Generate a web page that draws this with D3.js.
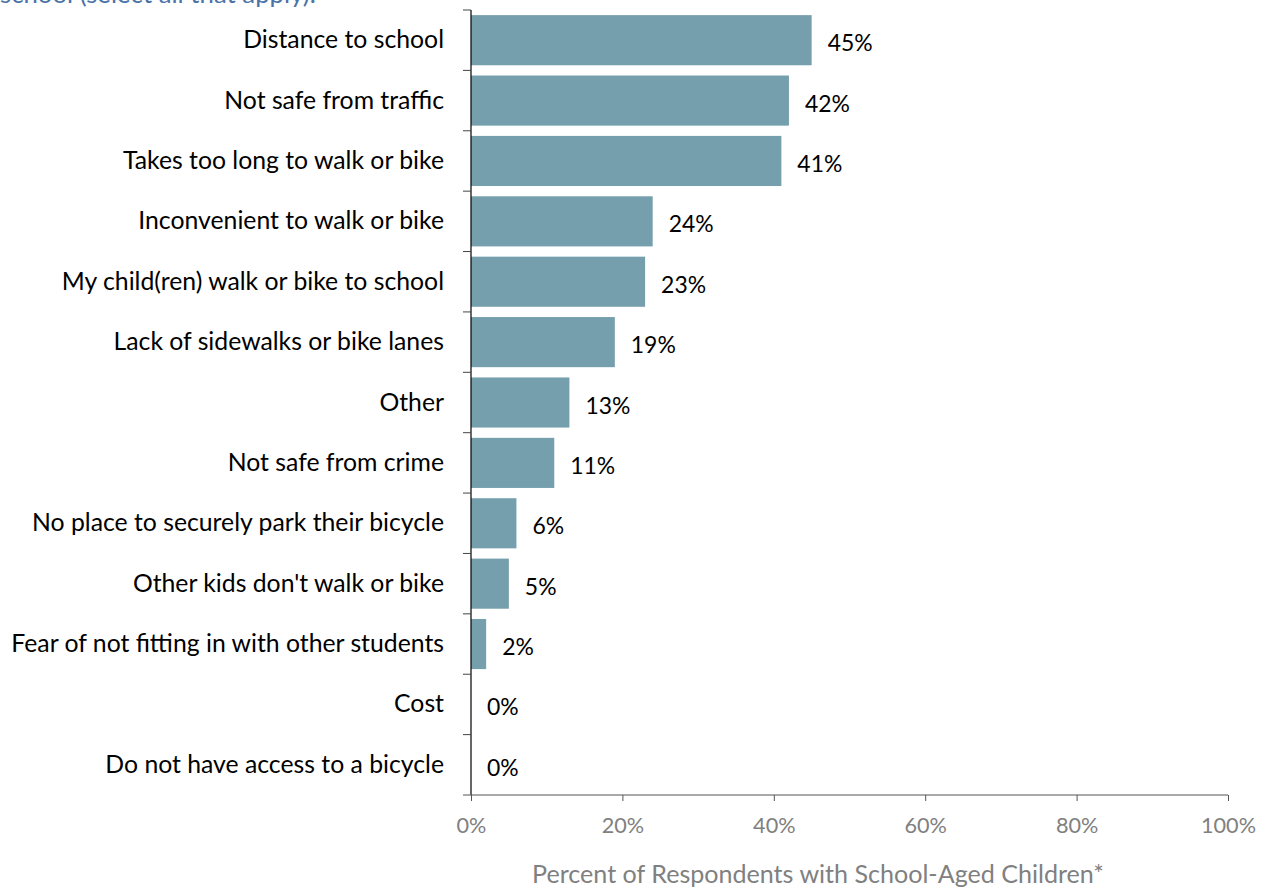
<!DOCTYPE html>
<html><head><meta charset="utf-8">
<script src="https://cdn.jsdelivr.net/npm/d3@7"></script>
<style>body{margin:0;background:#fff}svg{display:block}</style>
</head><body>
<svg id="c" width="1267" height="888"></svg>
<script>
const categories = ["Distance to school","Not safe from traffic","Takes too long to walk or bike","Inconvenient to walk or bike","My child(ren) walk or bike to school","Lack of sidewalks or bike lanes","Other","Not safe from crime","No place to securely park their bicycle","Other kids don't walk or bike","Fear of not fitting in with other students","Cost","Do not have access to a bicycle"];
const values = [45,42,41,24,23,19,13,11,6,5,2,0,0];
const xTicks = [0,20,40,60,80,100];
const titleText = "school (select all that apply).";
const axisTitle = "Percent of Respondents with School-Aged Children*";

(function(){
const svg = d3.select("#c");
const font = "Lato, 'Open Sans', sans-serif";
const L = 471, R = 1228, T = 10, B = 795;
const x = d3.scaleLinear().domain([0,100]).range([L,R]);
const y = d3.scaleBand().domain(categories).range([T,B]).paddingInner(0.17).paddingOuter(0.085);

function fit(sel, target){ // scale font so that width matches target
  const n = sel.node(); const fs = +sel.attr("font-size");
  const w = n.getComputedTextLength();
  if (w>0) sel.attr("font-size", fs*target/w);
  return +sel.attr("font-size");
}

const tt = svg.append("text").attr("x",0).attr("y",3).attr("font-family",font).attr("font-size",20)
  .attr("fill","#4a72a8").text(titleText);
fit(tt, 316);

svg.selectAll("rect.bar").data(values).enter().append("rect")
  .attr("x",x(0)).attr("y",(d,i)=>y(categories[i]))
  .attr("width",d=>x(d)-x(0)).attr("height",y.bandwidth())
  .attr("fill","#759fad");

// measure value label size from "45%"
const probe = svg.append("text").attr("font-family",font).attr("font-size",20).text("45%");
const vfs = fit(probe, 45); probe.remove();
svg.selectAll("text.val").data(values).enter().append("text")
  .attr("x",d=>x(d)+16).attr("y",(d,i)=>y(categories[i])+y.bandwidth()/2+11)
  .attr("font-family",font).attr("font-size",vfs).attr("fill","#000").text(d=>d+"%");

const step = (B-T)/categories.length;
const yb = d3.scaleLinear().domain([0,categories.length]).range([T,B]);
svg.append("line").attr("x1",L).attr("x2",L).attr("y1",T).attr("y2",B).attr("stroke","#000").attr("stroke-width",1.2);
svg.selectAll("line.yt").data(d3.range(categories.length)).enter().append("line")
  .attr("x1",L-8).attr("x2",L).attr("y1",d=>yb(d)).attr("y2",d=>yb(d)).attr("stroke","#444").attr("stroke-width",1);
const probe2 = svg.append("text").attr("font-family",font).attr("font-size",20).text(categories[10]);
const cfs = fit(probe2, 433); probe2.remove();
svg.selectAll("text.cat").data(categories).enter().append("text")
  .attr("x",444).attr("y",(d,i)=>T+i*step+step/2+8)
  .attr("text-anchor","end").attr("font-family",font).attr("font-size",cfs).attr("fill","#000").text(d=>d);

const xa = svg.append("g").attr("transform",`translate(0,${B})`)
  .call(d3.axisBottom(x).tickValues(xTicks).tickSize(6).tickFormat(d=>d+"%"));
xa.select(".domain").attr("stroke","#555").attr("d",`M${L-8},0H${R}`);
xa.selectAll(".tick line").attr("stroke","#555");
const probe3 = svg.append("text").attr("font-family",font).attr("font-size",16).text("100%");
const tfs = fit(probe3, 55); probe3.remove();
xa.selectAll("text").attr("font-family",font).attr("font-size",tfs).attr("fill","#808080").attr("dy","0").attr("y",38);

const at = svg.append("text").attr("x",818).attr("y",883).attr("text-anchor","middle")
  .attr("font-family",font).attr("font-size",18.5).attr("fill","#808080").text(axisTitle);
fit(at, 572);
})();
</script>
</body></html>
